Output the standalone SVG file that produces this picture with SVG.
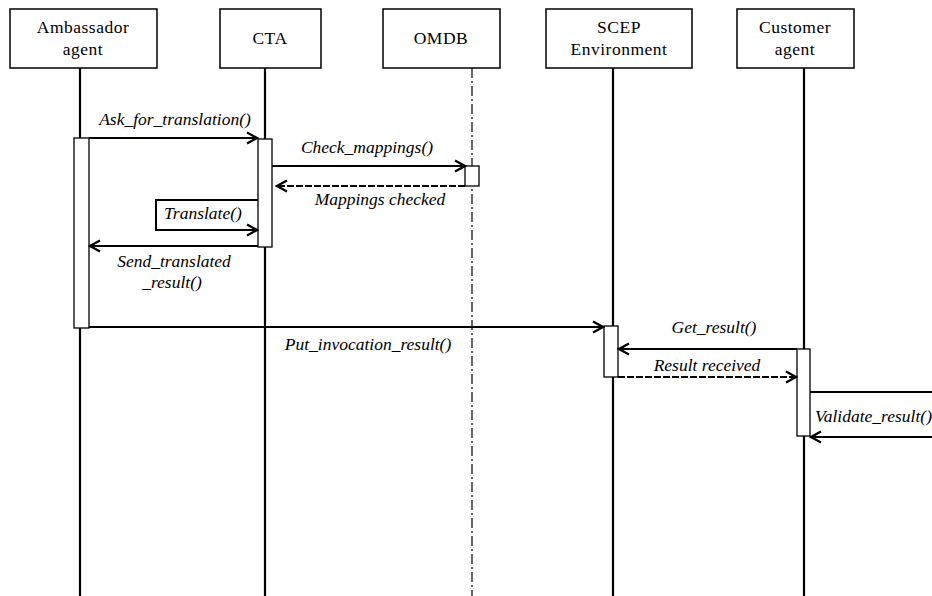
<svg xmlns="http://www.w3.org/2000/svg" width="932" height="596" viewBox="0 0 932 596">
<defs>
<style>
.box{fill:#fff;stroke:#000;stroke-width:1.5}
.life{stroke:#000;stroke-width:2.2;fill:none}
.dashlife{stroke:#000;stroke-width:1.2;fill:none;stroke-dasharray:10 3 2 3}
.act{fill:#fff;stroke:#000;stroke-width:1.3}
.msg{stroke:#000;stroke-width:2;fill:none}
.ret{stroke:#000;stroke-width:2;fill:none;stroke-dasharray:7 2}
.nt{font-family:'Liberation Serif',serif;font-size:17.5px;letter-spacing:0.5px;fill:#000;text-anchor:middle}
.lb{font-family:'Liberation Serif',serif;font-size:17.5px;font-style:italic;fill:#000;text-anchor:middle}
</style>
<marker id="ah" markerUnits="userSpaceOnUse" markerWidth="14" markerHeight="14" viewBox="0 0 14 14" refX="12" refY="7" orient="auto">
<path d="M2,1.5 L12,7 L2,12.5" fill="none" stroke="#000" stroke-width="2.2"/>
</marker>
</defs>
<rect width="932" height="596" fill="#fff"/>
<g id="lifelines">
<line class="life" x1="80" y1="68" x2="80" y2="596"/>
<line class="life" x1="265" y1="68" x2="265" y2="596"/>
<line class="dashlife" x1="472" y1="68" x2="472" y2="596"/>
<line class="life" x1="613" y1="68" x2="613" y2="596"/>
<line class="life" x1="804" y1="68" x2="804" y2="596"/>
</g>
<g id="ambassador">
<rect class="box" x="10" y="9" width="147" height="59"/>
<text class="nt" x="83" y="33">Ambassador</text>
<text class="nt" x="83" y="55">agent</text>
<rect class="act" x="74" y="138" width="15" height="190"/>
</g>
<g id="cta">
<rect class="box" x="220" y="9" width="101" height="59"/>
<text class="nt" x="270" y="44">CTA</text>
<rect class="act" x="258" y="139" width="14" height="108"/>
</g>
<g id="omdb">
<rect class="box" x="383" y="9" width="117" height="59"/>
<text class="nt" x="441" y="44">OMDB</text>
<rect class="act" x="465" y="166" width="14" height="20"/>
</g>
<g id="scep">
<rect class="box" x="546" y="9" width="146" height="59"/>
<text class="nt" x="619" y="33">SCEP</text>
<text class="nt" x="619" y="55">Environment</text>
<rect class="act" x="604" y="326" width="14" height="51"/>
</g>
<g id="customer">
<rect class="box" x="737" y="9" width="117" height="59"/>
<text class="nt" x="795" y="33">Customer</text>
<text class="nt" x="795" y="55">agent</text>
<rect class="act" x="797" y="349" width="13" height="87"/>
</g>
<g id="connectors">
<line class="msg" x1="89" y1="138" x2="257" y2="138" marker-end="url(#ah)"/>
<line class="msg" x1="272" y1="166" x2="465" y2="166" marker-end="url(#ah)"/>
<line class="ret" x1="465" y1="186" x2="277" y2="186" marker-end="url(#ah)"/>
<polyline class="msg" points="258,200 156,200 156,230 257,230" marker-end="url(#ah)"/>
<line class="msg" x1="258" y1="246" x2="90" y2="246" marker-end="url(#ah)"/>
<line class="msg" x1="89" y1="327" x2="603" y2="327" marker-end="url(#ah)"/>
<line class="msg" x1="797" y1="349" x2="619" y2="349" marker-end="url(#ah)"/>
<line class="ret" x1="618" y1="377" x2="796" y2="377" marker-end="url(#ah)"/>
<polyline class="msg" points="810,392 940,392"/>
<line class="msg" x1="940" y1="437" x2="811" y2="437" marker-end="url(#ah)"/>
</g>
<g id="labels">
<text class="lb" x="175" y="125">Ask_for_translation()</text>
<text class="lb" x="367" y="153">Check_mappings()</text>
<text class="lb" x="380" y="205">Mappings checked</text>
<text class="lb" x="203" y="219">Translate()</text>
<text class="lb" x="174" y="267">Send_translated</text>
<text class="lb" x="172" y="288">_result()</text>
<text class="lb" x="368" y="350">Put_invocation_result()</text>
<text class="lb" x="714" y="333">Get_result()</text>
<text class="lb" x="707" y="371">Result received</text>
<text class="lb" x="815" y="422" style="text-anchor:start">Validate_result()</text>
</g>
</svg>
